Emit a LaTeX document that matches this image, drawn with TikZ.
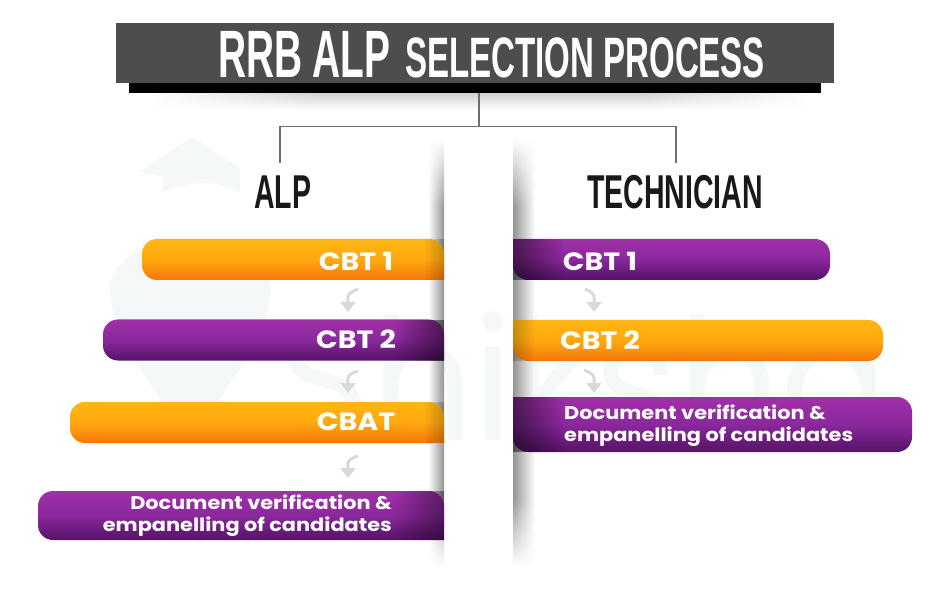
\documentclass[tikz,border=0pt]{standalone}
\usepackage{fontspec}
\setmainfont{Liberation Sans}
\newfontfamily\condfont[FakeStretch=0.58]{Liberation Sans}
\newfontfamily\headfont[FakeStretch=0.6]{Liberation Sans}
\newfontfamily\barfont[FakeStretch=1.14]{Poppins}
\newfontfamily\wmfont[FakeStretch=0.94]{Poppins}
\usetikzlibrary{arrows.meta,fadings,calc}
\definecolor{band}{HTML}{4D4D4D}
\definecolor{orT}{HTML}{FFB612}
\definecolor{orM}{HTML}{FFA90F}
\definecolor{orB}{HTML}{F5760A}
\definecolor{puT}{HTML}{A030A8}
\definecolor{puM}{HTML}{8A289C}
\definecolor{puB}{HTML}{551268}
\definecolor{wmark}{HTML}{F4F8F9}
\definecolor{linegray}{HTML}{6F6F6F}
\definecolor{arrgray}{HTML}{D9D9D9}
\pgfdeclareverticalshading{vfs}{100bp}{color(0bp)=(pgftransparent!100); color(25bp)=(pgftransparent!100); color(33bp)=(pgftransparent!0); color(67bp)=(pgftransparent!0); color(75bp)=(pgftransparent!100); color(100bp)=(pgftransparent!100)}
\pgfdeclarefading{vfade}{\pgfuseshading{vfs}}
\pgfdeclarehorizontalshading{hfs}{100bp}{color(0bp)=(pgftransparent!100); color(25bp)=(pgftransparent!100); color(38bp)=(pgftransparent!0); color(62bp)=(pgftransparent!0); color(75bp)=(pgftransparent!100); color(100bp)=(pgftransparent!100)}
\pgfdeclarefading{hfade}{\pgfuseshading{hfs}}
\tikzfading[name=darkright,left color=transparent!100,right color=transparent!0]
\tikzfading[name=darkleft,left color=transparent!0,right color=transparent!100]
\tikzset{
  x=1pt,y=-1pt,
  orangebar/.style={top color=orT,bottom color=orB,middle color=orM},
  purplebar/.style={top color=puT,bottom color=puB,middle color=puM},
  blocktext/.style={inner sep=0pt,outer sep=0pt,text=white},
  bartext/.style={inner sep=0pt,text=white,font=\barfont\bfseries\fontsize{25}{25}\selectfont},
  doctext/.style={inner sep=0pt,text=white,align=flush right,font=\barfont\bfseries\fontsize{18.3}{22.3}\selectfont},
  doctextr/.style={doctext,align=flush left},
  headtext/.style={inner sep=0pt,text=black!90,font=\headfont\bfseries\fontsize{47.5}{47.5}\selectfont},
  tree/.style={draw=linegray,line width=1.1pt},
  bararrow/.style={draw=arrgray,line width=3pt,-{Triangle[width=15pt,length=10pt]}},
}
\newcommand{\barleft}[5]{\path[#5,rounded corners=15pt] (#2,#3) [sharp corners] -- (#2,#4) [rounded corners=15pt] -- (#1,#4) -- (#1,#3) -- cycle;}
\newcommand{\barright}[5]{\path[#5,rounded corners=15pt] (#1,#4) [sharp corners] -- (#1,#3) [rounded corners=15pt] -- (#2,#3) -- (#2,#4) -- cycle;}
\begin{document}
\begin{tikzpicture}
\useasboundingbox (0,0) rectangle (947,593);
\fill[white] (0,0) rectangle (947,593);
% watermark
\node[anchor=base west,inner sep=0pt,text=wmark,font=\wmfont\fontsize{170}{170}\selectfont] (wm) at (277,440) {Shiksha};
\fill[wmark] (192,137) -- (240,168) -- (240,192) .. controls (215,180) and (190,180) .. (163,192) -- (163,177) -- (139,172) -- cycle;
\fill[wmark] (110,290) .. controls (110,225) and (270,225) .. (270,290) .. controls (270,340) and (215,400) .. (190,445) .. controls (165,400) and (110,340) .. (110,290) -- cycle;
% title shadow
\shade[top color=black!18,bottom color=white,path fading=hfade] (150,93) rectangle (810,110);
% title band
\node[fill=black,minimum width=692pt,minimum height=10pt,inner sep=0pt] (under) at (475,88) {};
\node[fill=band,minimum width=718pt,minimum height=60pt,inner sep=0pt] (title) at (475,53) {};
\node[blocktext,anchor=base west,font=\condfont\bfseries\fontsize{67}{67}\selectfont] (t1) at (218,77.5) {RRB ALP};
\node[blocktext,anchor=base west,font=\condfont\bfseries\fontsize{57}{57}\selectfont] (t2) at (405,77.5) {SELECTION PROCESS};
% tree
\coordinate (junction) at (479,126.5);
\coordinate (alptop) at (280,163);
\coordinate (techtop) at (676,163);
\draw[tree] (under.south -| junction) -- (junction);
\draw[tree] (alptop) |- (junction) -| (techtop);
% headings
\node[headtext,anchor=base west] (alp) at (254,209) {ALP};
\node[headtext,anchor=base west] (tech) at (587,209) {TECHNICIAN};
% central shadows on the page
\shade[left color=white,right color=black!42,path fading=vfade] (428,140) rectangle (444,565);
\shade[left color=black!42,right color=white,path fading=vfade] (513,140) rectangle (535,565);
% bars
\barleft{142}{444}{239}{280}{orangebar}
\barleft{103}{444}{319.5}{360.5}{purplebar}
\barleft{70}{444}{402}{443}{orangebar}
\barleft{38}{444}{491}{540}{purplebar}
\barright{513}{830}{239}{280}{purplebar}
\barright{513}{883}{320}{361}{orangebar}
\barright{513}{912}{397}{452}{purplebar}
% shading of the bars towards the centre
\fill[black,opacity=.22,path fading=darkright] (424,239) rectangle (444,280);
\fill[black,opacity=.5,path fading=darkright] (395,319.5) rectangle (444,360.5);
\fill[black,opacity=.22,path fading=darkright] (424,402) rectangle (444,443);
\fill[black,opacity=.4,path fading=darkright] (395,491) rectangle (444,540);
\fill[black,opacity=.5,path fading=darkleft] (513,239) rectangle (565,280);
\fill[black,opacity=.22,path fading=darkleft] (513,320) rectangle (535,361);
\fill[black,opacity=.5,path fading=darkleft] (513,397) rectangle (565,452);
% bar labels
\node[bartext] (l1) at (356,261) {CBT 1};
\node[bartext] (l2) at (356,339.5) {CBT 2};
\node[bartext] (l3) at (356,422) {CBAT};
\node[doctext,anchor=east] (l4) at (392,516) {Document verification \&\\empanelling of candidates};
\node[bartext] (r1) at (600,261) {CBT 1};
\node[bartext] (r2) at (600,340) {CBT 2};
\node[doctextr,anchor=west] (r3) at (564,425.5) {Document verification \&\\empanelling of candidates};
% arrows
\coordinate (a1s) at (358,289); \coordinate (a1e) at (348,312);
\coordinate (a2s) at (358,371); \coordinate (a2e) at (348,393);
\coordinate (a3s) at (358,456); \coordinate (a3e) at (348,478);
\coordinate (b1s) at (585,289); \coordinate (b1e) at (594,312);
\coordinate (b2s) at (584,370); \coordinate (b2e) at (594,393);
\foreach \p/\q in {a1s/a1e,a2s/a2e,a3s/a3e}{
  \draw[bararrow] (\p) .. controls ($(\q)+(-3,-18)$) and ($(\q)+(0,-14)$) .. (\q);
}
\foreach \p/\q in {b1s/b1e,b2s/b2e}{
  \draw[bararrow] (\p) .. controls ($(\q)+(3,-18)$) and ($(\q)+(0,-14)$) .. (\q);
}
\end{tikzpicture}
\end{document}
